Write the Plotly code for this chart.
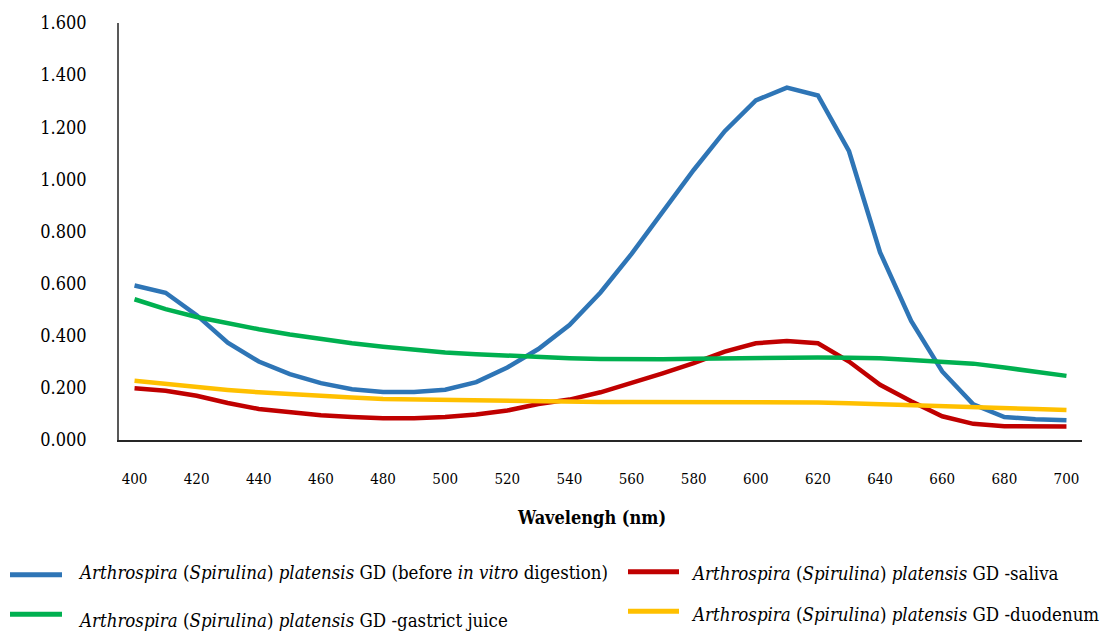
import plotly.graph_objects as go

wavelength = list(range(400, 701, 10))

before_digestion = [0.593, 0.565, 0.479, 0.373, 0.301, 0.253, 0.218, 0.195, 0.184, 0.184,
                    0.193, 0.222, 0.278, 0.349, 0.441, 0.566, 0.714, 0.876, 1.036, 1.185,
                    1.303, 1.352, 1.322, 1.108, 0.720, 0.457, 0.263, 0.137, 0.088, 0.080, 0.076]
saliva = [0.199, 0.189, 0.170, 0.142, 0.119, 0.107, 0.095, 0.088, 0.083, 0.083,
          0.088, 0.098, 0.113, 0.138, 0.155, 0.183, 0.218, 0.256, 0.295, 0.339,
          0.371, 0.380, 0.371, 0.301, 0.212, 0.149, 0.091, 0.062, 0.053, 0.052, 0.052]
gastric = [0.540, 0.502, 0.472, 0.447, 0.425, 0.405, 0.387, 0.371, 0.358, 0.345,
           0.336, 0.329, 0.323, 0.318, 0.314, 0.311, 0.309, 0.310, 0.312, 0.314,
           0.316, 0.317, 0.317, 0.316, 0.314, 0.307, 0.301, 0.293, 0.278, 0.263, 0.246]
duodenum = [0.227, 0.215, 0.202, 0.192, 0.183, 0.175, 0.168, 0.163, 0.157, 0.155,
            0.152, 0.150, 0.149, 0.147, 0.146, 0.146, 0.146, 0.146, 0.146, 0.146,
            0.146, 0.146, 0.144, 0.141, 0.138, 0.135, 0.131, 0.127, 0.123, 0.119, 0.115]

x_ticks = list(range(400, 701, 20))
y_ticks = [0.0, 0.2, 0.4, 0.6, 0.8, 1.0, 1.2, 1.4, 1.6]

sp = "<i>Arthrospira</i> (<i>Spirulina</i>) <i>platensis</i> GD"
series_names = [
    sp + " (before <i>in vitro</i> digestion)",
    sp + " -saliva",
    sp + " -gastrict juice",
    sp + " -duodenum",
]
series_values = [before_digestion, saliva, gastric, duodenum]
series_colors = ["#2E75B6", "#C00000", "#00B050", "#FFC000"]

FONT = "DejaVu Serif Condensed"

# Plot-area geometry in pixels (for placing the legend outside the plot)
L, T, B = 119, 19, 193
W, H = 1112, 633
PW, PH = W - L - 30, H - T - B

def px_x(p):
    return (p - L) / PW

def px_y(p):
    return (H - B - p) / PH

# legend placement: (line start, line end, line y, text x, text y)
legend_pos = [
    (10, 62, 576, 76, 574),
    (628, 679, 573, 689, 575),
    (10, 62, 616, 76, 622),
    (628, 679, 613, 689, 616),
]

fig = go.Figure()
shapes, annotations = [], []
for name, vals, color, pos in zip(series_names, series_values, series_colors, legend_pos):
    fig.add_trace(go.Scatter(x=wavelength, y=vals, mode="lines", name=name,
                             line=dict(color=color, width=4.5), showlegend=False))
    x0, x1, ly, tx, ty = pos
    shapes.append(dict(type="line", xref="paper", yref="paper", x0=px_x(x0), x1=px_x(x1),
                       y0=px_y(ly), y1=px_y(ly), line=dict(color=color, width=5)))
    annotations.append(dict(text=name, xref="paper", yref="paper", x=px_x(tx), y=px_y(ty),
                            xanchor="left", yanchor="middle", showarrow=False,
                            font=dict(family=FONT, size=18.5, color="#000")))

annotations.append(dict(text="<b>Wavelengh (nm)</b>", xref="paper", yref="paper",
                        x=px_x(591), y=px_y(518), xanchor="center", yanchor="middle",
                        showarrow=False, font=dict(family=FONT, size=18, color="#000")))

fig.update_layout(
    width=W, height=H,
    margin=dict(l=L, r=30, t=T, b=B),
    paper_bgcolor="white", plot_bgcolor="white",
    font=dict(family=FONT, color="#000"),
    showlegend=False,
    xaxis=dict(range=[395, 705], tickvals=x_ticks, ticks="", showgrid=False, zeroline=False,
               showline=True, linecolor="#262626", linewidth=1.5,
               tickfont=dict(family=FONT, size=15, color="#000"), ticklabelstandoff=24),
    yaxis=dict(range=[0, 1.6], tickvals=y_ticks, tickformat=".3f", ticks="", showgrid=False,
               zeroline=False, showline=True, linecolor="#595959", linewidth=1.5,
               tickfont=dict(family=FONT, size=18, color="#000"), ticklabelstandoff=27),
    shapes=shapes,
    annotations=annotations,
)

fig.write_html("out.html")
